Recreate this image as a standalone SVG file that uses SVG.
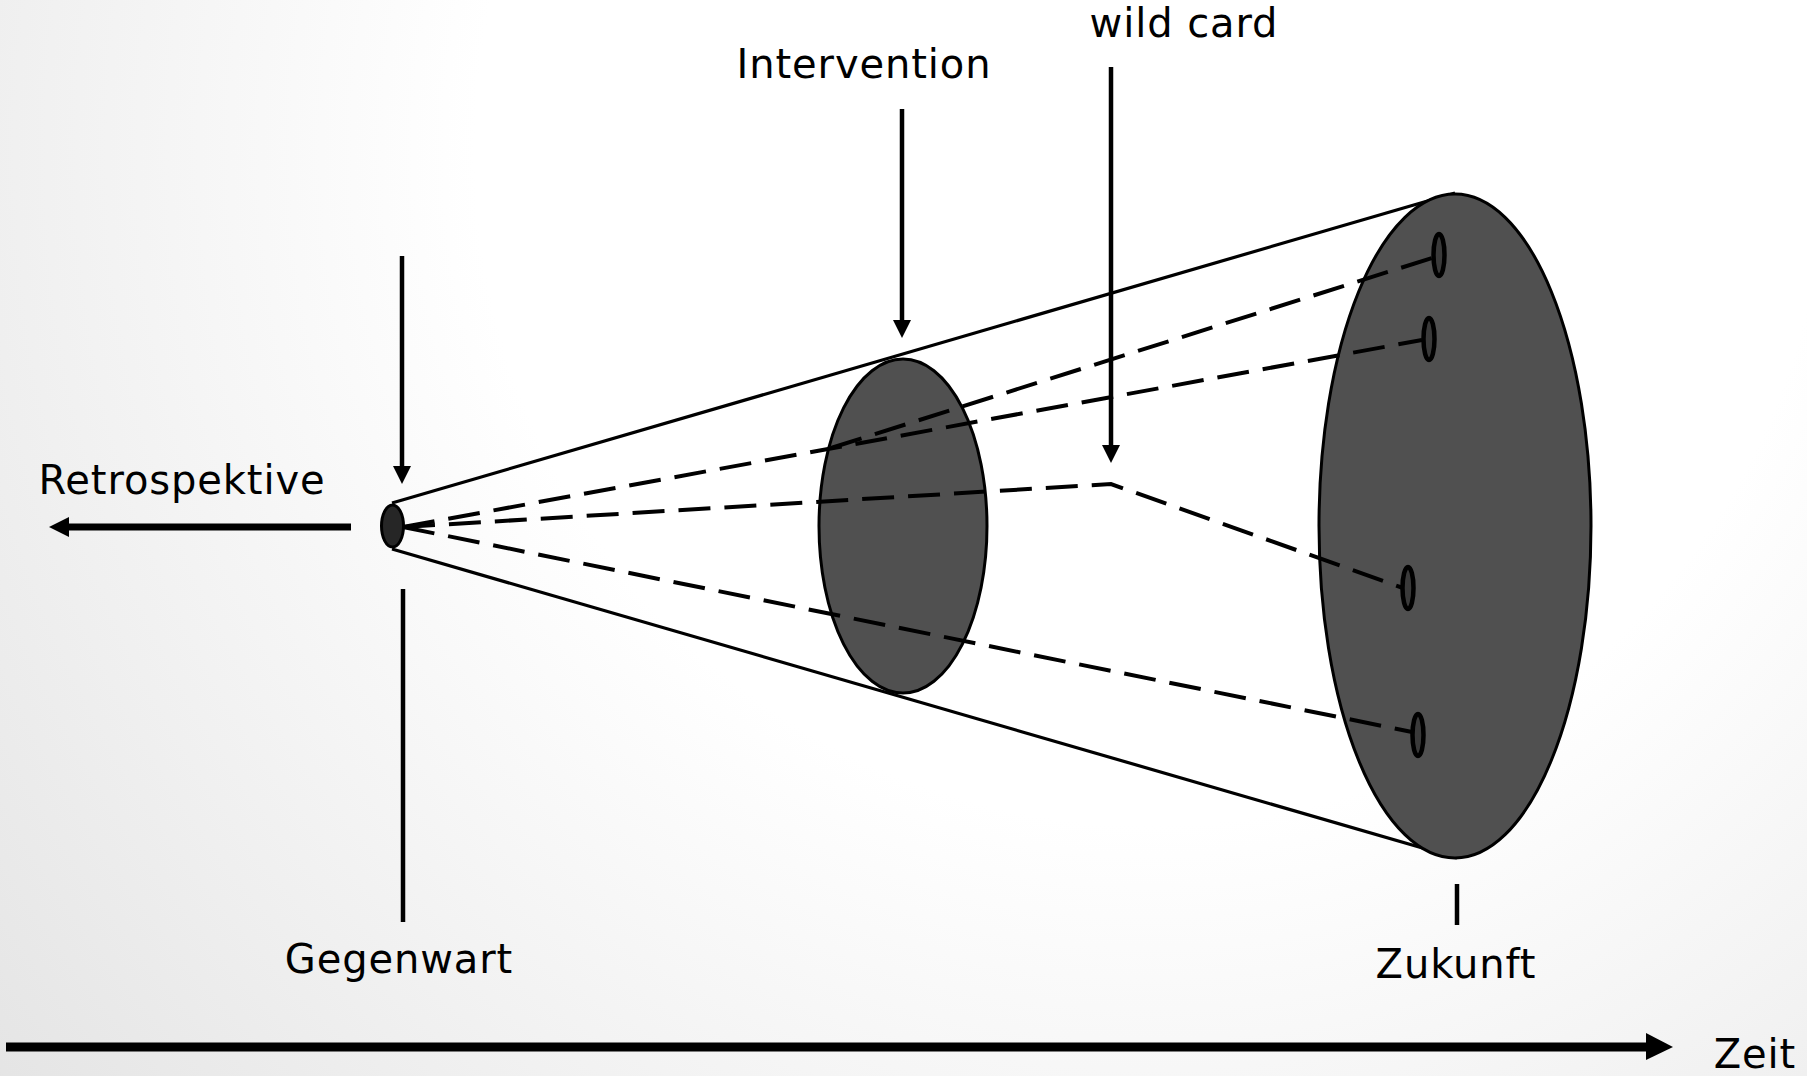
<svg xmlns="http://www.w3.org/2000/svg" width="1807" height="1076" viewBox="0 0 1807 1076">
<style>
.lbl{font-family:"DejaVu Sans","Liberation Sans",sans-serif;font-size:40px;letter-spacing:0.9px;fill:#000;text-anchor:middle}
.disc{fill:#505050;stroke:#000;stroke-width:3}
.dot{fill:#3a3a3a;stroke:#000;stroke-width:4.5}
.cone{stroke:#000;stroke-width:3.2;fill:none}
.dash{stroke:#000;stroke-width:4;fill:none;stroke-dasharray:32 14}
.tick{stroke:#000;stroke-width:4.5}
.arr{stroke:#000;stroke-width:4.5}
.head{fill:#000}
</style>
<defs>
<radialGradient id="bg" gradientUnits="userSpaceOnUse" cx="1150" cy="150" r="1500">
<stop offset="0.45" stop-color="#ffffff"/>
<stop offset="1" stop-color="#e4e4e4"/>
</radialGradient>
</defs>
<rect x="0" y="0" width="1807" height="1076" fill="url(#bg)"/>

<g id="cone">
<line class="cone" x1="392" y1="503" x2="1455" y2="193"/>
<line class="cone" x1="392" y1="549" x2="1457" y2="858"/>
</g>

<g id="zukunft-disc">
<ellipse class="disc" cx="1455" cy="526" rx="136" ry="332"/>
</g>
<g id="intervention-disc">
<ellipse class="disc" cx="903" cy="526" rx="84" ry="167"/>
</g>

<g id="connectors">
<polyline class="dash" points="403,527 1422,340"/>
<polyline class="dash" points="831,448 1432,258"/>
<polyline class="dash" points="403,527 1111,484 1403,588"/>
<polyline class="dash" points="403,527 1412,732"/>
<line class="arr" x1="402" y1="256" x2="402" y2="468"/>
<polygon class="head" points="393,466 411,466 402,484"/>
<line class="arr" x1="902" y1="109" x2="902" y2="322"/>
<polygon class="head" points="893,320 911,320 902,338"/>
<line class="arr" x1="1111" y1="67" x2="1111" y2="447"/>
<polygon class="head" points="1102,445 1120,445 1111,463"/>
<line stroke="#000" stroke-width="7" x1="351" y1="527" x2="67" y2="527"/>
<polygon class="head" points="69,517 69,537 49,527"/>
<line stroke="#000" stroke-width="9" x1="6" y1="1047" x2="1648" y2="1047"/>
<polygon class="head" points="1646,1033 1646,1060 1673,1047"/>
<line class="tick" x1="403" y1="589" x2="403" y2="922"/>
<line class="tick" x1="1457" y1="884" x2="1457" y2="925"/>
</g>

<g id="outcomes">
<ellipse class="dot" cx="1439" cy="255" rx="5.5" ry="21"/>
<ellipse class="dot" cx="1429" cy="339" rx="5.5" ry="21"/>
<ellipse class="dot" cx="1408" cy="588" rx="5.5" ry="21"/>
<ellipse class="dot" cx="1418" cy="735" rx="5.5" ry="21"/>
</g>

<g id="gegenwart-disc">
<ellipse cx="392.5" cy="526" rx="11" ry="21" fill="#262626" stroke="#000" stroke-width="3"/>
</g>

<g id="labels">
<text class="lbl" x="182" y="494">Retrospektive</text>
<text class="lbl" x="399" y="973">Gegenwart</text>
<text class="lbl" x="864" y="78">Intervention</text>
<text class="lbl" x="1184" y="37">wild card</text>
<text class="lbl" x="1456" y="978">Zukunft</text>
<text class="lbl" x="1755" y="1068">Zeit</text>
</g>
</svg>
